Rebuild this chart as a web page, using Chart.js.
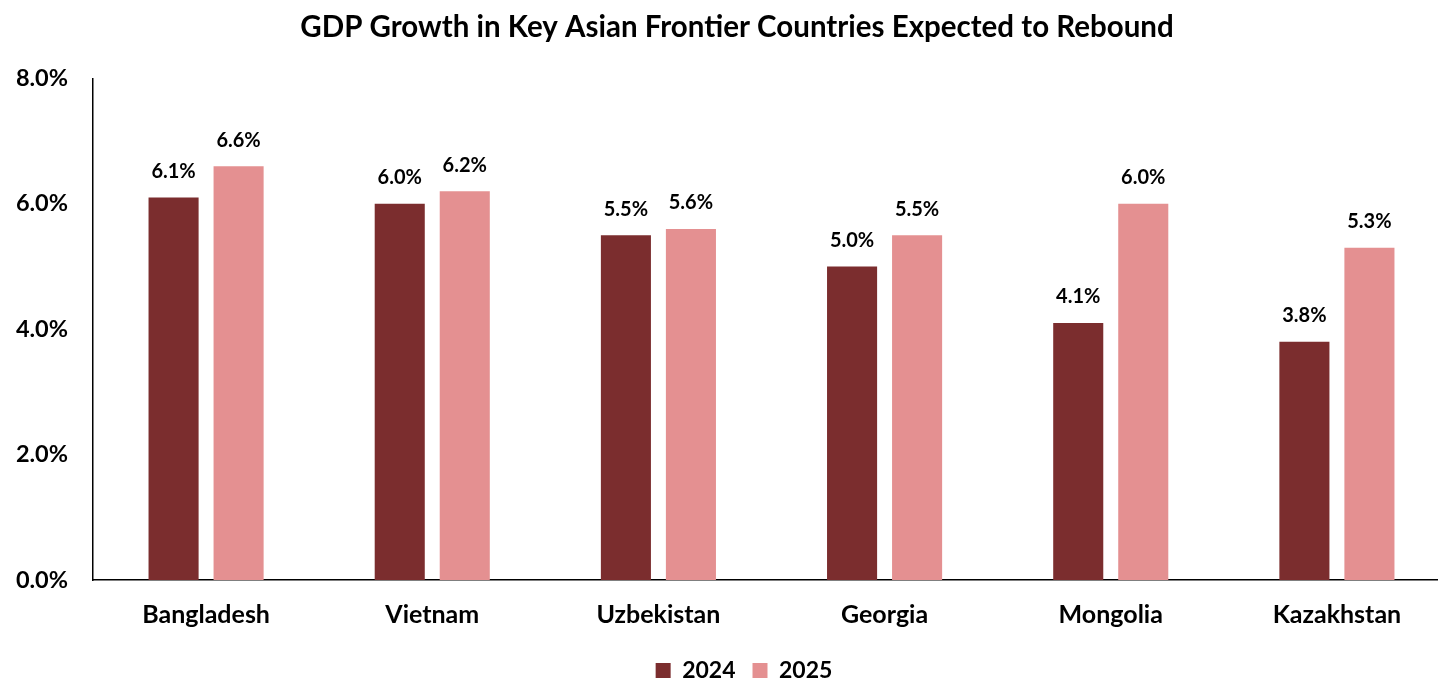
<!DOCTYPE html>
<html>
<head>
<meta charset="utf-8">
<script src="https://cdn.jsdelivr.net/npm/chart.js@4.4.0/dist/chart.umd.min.js"></script>
<style>
    html, body { margin: 0; padding: 0; background: #fff; overflow: hidden; }
    #wrap { width: 1450px; height: 692px; position: relative; }
</style>
</head>
<body>
<div id="wrap"><canvas id="gdp"></canvas></div>
<script>
const countries = ['Bangladesh', 'Vietnam', 'Uzbekistan', 'Georgia', 'Mongolia', 'Kazakhstan']
const growth2024 = [6.1, 6.0, 5.5, 5.0, 4.1, 3.8]
const growth2025 = [6.6, 6.2, 5.6, 5.5, 6.0, 5.3]
const yTicks = [0, 2, 4, 6, 8]

const FONT = 'Lato, "Open Sans", sans-serif'

// draws the value above every bar
const barLabels = {
    id: 'barLabels',
    afterDatasetsDraw(chart) {
        const ctx = chart.ctx
        ctx.save()
        ctx.font = 'bold 20px ' + FONT
        ctx.fillStyle = '#000'
        ctx.textAlign = 'center'
        ctx.textBaseline = 'middle'
        chart.data.datasets.forEach((ds, i) => {
            chart.getDatasetMeta(i).data.forEach((bar, j) => {
                ctx.fillText(ds.data[j].toFixed(1) + '%', bar.x, bar.y - 26)
            })
        })
        ctx.restore()
    }
}

// the canvas runs past the window, so nudge title and legend back to the visible centre
const recenter = {
    id: 'recenter',
    afterLayout(chart) {
        chart.titleBlock.left += 12
        chart.titleBlock.right += 12
        chart.legend.left += 19
        chart.legend.right += 19
    }
}

new Chart(document.getElementById('gdp').getContext('2d'), {
    type: 'bar',
    data: {
        labels: countries,
        datasets: [
            { label: '2024', data: growth2024, backgroundColor: '#7B2D2E' },
            { label: '2025', data: growth2025, backgroundColor: '#E49091' }
        ]
    },
    options: {
        responsive: true,
        maintainAspectRatio: false,
        animation: false,
        layout: { padding: { top: 10, right: 0, bottom: 0, left: 0 } },
        datasets: {
            bar: { categoryPercentage: 0.575, barPercentage: 0.77 }
        },
        plugins: {
            title: {
                display: true,
                text: 'GDP Growth in Key Asian Frontier Countries Expected to Rebound',
                color: '#000',
                font: { family: FONT, size: 29.5, weight: 'bold' },
                padding: { top: 0, bottom: 33 }
            },
            legend: {
                position: 'bottom',
                labels: {
                    color: '#000',
                    font: { family: FONT, size: 23, weight: 'bold' },
                    boxWidth: 15,
                    boxHeight: 15,
                    padding: 17
                }
            },
            tooltip: { enabled: false }
        },
        scales: {
            x: {
                grid: { display: false },
                border: { display: true, color: '#000', width: 1.5 },
                ticks: {
                    color: '#000',
                    font: { family: FONT, size: 25, weight: 'bold' },
                    padding: 12
                }
            },
            y: {
                min: 0,
                max: 8,
                grid: { display: false },
                border: { display: true, color: '#000', width: 1.5 },
                afterFit(scale) { scale.width = 93 },
                afterBuildTicks(scale) { scale.ticks = yTicks.map(v => ({ value: v })) },
                ticks: {
                    color: '#000',
                    font: { family: FONT, size: 23.5, weight: 'bold' },
                    padding: 17,
                    callback: v => v.toFixed(1) + '%'
                }
            }
        }
    },
    plugins: [barLabels, recenter]
})
</script>
</body>
</html>
